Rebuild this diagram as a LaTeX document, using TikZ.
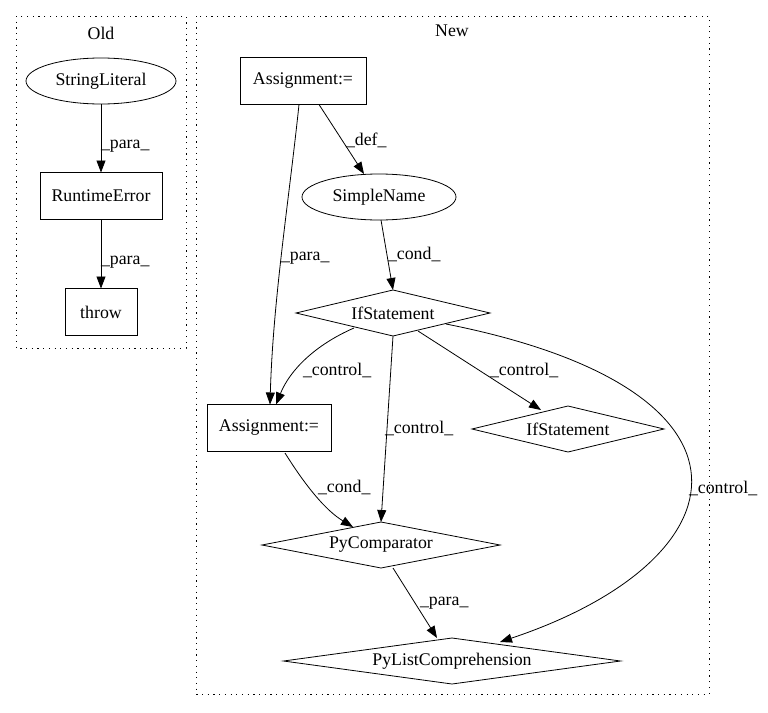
\documentclass[tikz,border=0pt]{standalone}
\usepackage{fontspec}
\setmainfont{Liberation Serif}
\usetikzlibrary{arrows.meta,shapes.geometric,positioning}

\begin{document}
\begin{tikzpicture}[
    x=1pt, y=-1pt,
    font=\fontsize{17.8}{20}\selectfont,
    every node/.style={inner sep=0pt, outer sep=0pt},
    cluster/.style={draw, thick, dash pattern=on 1.2pt off 4.5pt},
    boxnode/.style={draw, thick, rectangle, minimum height=47pt},
    ellnode/.style={draw, thick, ellipse, minimum height=46pt},
    diamnode/.style={draw, thick, diamond, aspect=6, minimum height=46pt},
    flow/.style={thick, -{Triangle[length=12pt,width=9pt]}},
    edgelab/.style={anchor=west}
  ]
  \useasboundingbox (0,0) rectangle (768,712);
  % clusters
  \draw [cluster] (16,16) rectangle (186,348);
  \node at (101,33) (oldlab) {Old};
  \draw [cluster] (196,16) rectangle (709,694);
  \node at (452,31) (newlab) {New};
  % old nodes
  \node [ellnode, minimum width=150pt] at (101,81) (strlit) {StringLiteral};
  \node [boxnode, minimum width=122pt] at (101,196) (rterr) {RuntimeError};
  \node [boxnode, minimum width=72pt] at (101,312) (throw) {throw};
  % new nodes
  \node [boxnode, minimum width=126pt] at (303,81) (assignA) {Assignment:=};
  \node [ellnode, minimum width=154pt] at (379,197) (simple) {SimpleName};
  \node [diamnode, minimum width=194pt] at (393,313) (ifA) {IfStatement};
  \node [boxnode, minimum width=124pt] at (269,428) (assignB) {Assignment:=};
  \node [diamnode, minimum width=192pt] at (568,429) (ifB) {IfStatement};
  \node [diamnode, minimum width=238pt] at (381,545) (pycmp) {PyComparator};
  \node [diamnode, minimum width=337pt] at (452,661) (pylist) {PyListComprehension};
  % old edges
  \draw [flow] (strlit) -- (rterr);
  \node [edgelab] at (101,146) (l1) {\_para\_};
  \draw [flow] (rterr) -- (throw);
  \node [edgelab] at (101,262) (l2) {\_para\_};
  % new edges
  \draw [flow] (assignA.south -| 319,0) -- (simple.north -| 364,0);
  \node [edgelab] at (346,140) (l3) {\_def\_};
  \draw [flow]
    (assignA.south -| 299,0)
    .. controls (289,200) and (273,300) ..
    (assignB.north -| 270,0)
  ;
  \node [edgelab] at (281,258) (l4) {\_para\_};
  \draw [flow] (simple.south -| 381,0) -- (ifA.north);
  \node [edgelab] at (388,254) (l5) {\_cond\_};
  \draw [flow]
    (354,328)
    .. controls (315,345) and (290,370) ..
    (assignB.north -| 276,0)
  ;
  \node [edgelab] at (303,370) (l6) {\_control\_};
  \draw [flow] (ifA.south) -- (pycmp.north);
  \node [edgelab] at (385,428) (l7) {\_control\_};
  \draw [flow] (418,331) -- (541,410);
  \node [edgelab] at (490,370) (l8) {\_control\_};
  \draw [flow]
    (446,324)
    .. controls (780,390) and (745,560) ..
    (500,642)
  ;
  \node [edgelab] at (689,488) (l9) {\_control\_};
  \draw [flow]
    (285,453)
    .. controls (305,485) and (325,510) ..
    (353,527)
  ;
  \node [edgelab] at (318,487) (l10) {\_cond\_};
  \draw [flow] (393,568) -- (437,638);
  \node [edgelab] at (420,603) (l11) {\_para\_};
\end{tikzpicture}
\end{document}
